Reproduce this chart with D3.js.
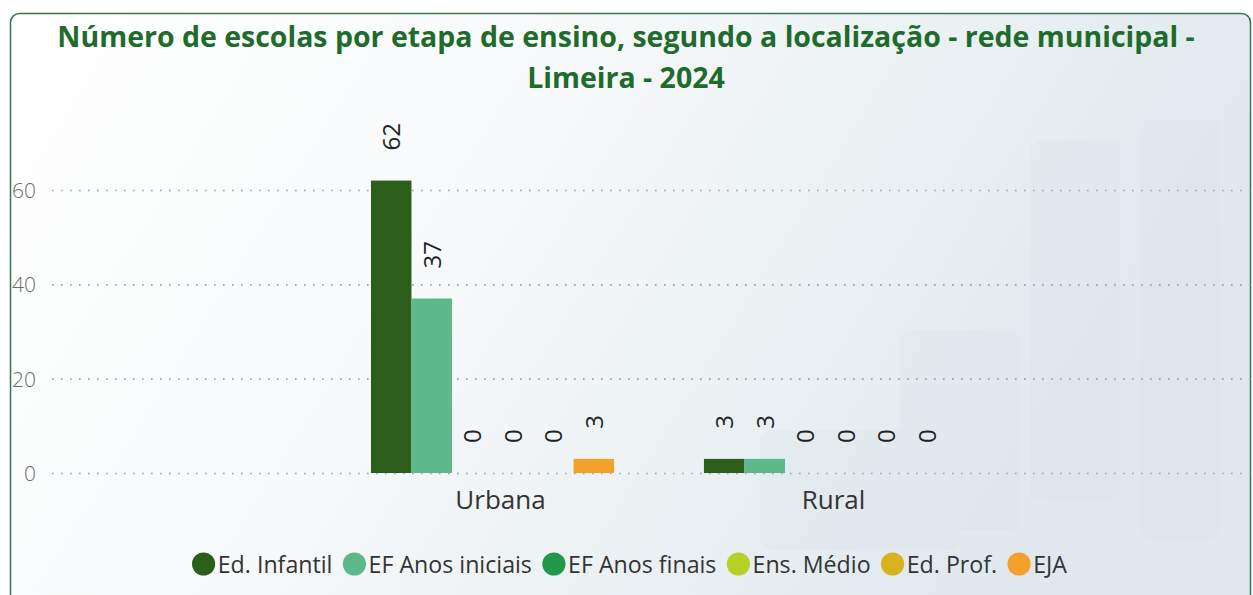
<!DOCTYPE html>
<html>
<head>
<meta charset="utf-8">
<script src="https://cdn.jsdelivr.net/npm/d3@7"></script>
<style>
	body { margin: 0; background: #fff; }
	svg { display: block; }
</style>
</head>
<body>
<div id="chart"></div>
<script>
// data
const categories = ["Urbana", "Rural"];
const series = ["Ed. Infantil", "EF Anos iniciais", "EF Anos finais", "Ens. Médio", "Ed. Prof.", "EJA"];
const urbanaValues = [62, 37, 0, 0, 0, 3];
const ruralValues = [3, 3, 0, 0, 0, 0];
const seriesColors = ["#2b5e1b", "#5db98b", "#22994a", "#b7d025", "#d8b320", "#f2a12c"];
const yTicks = [0, 20, 40, 60];
const titleLines = ["Número de escolas por etapa de ensino, segundo a localização - rede municipal -", "Limeira - 2024"];

const W = 1253, H = 595;
const values = { "Urbana": urbanaValues, "Rural": ruralValues };
const font = "'Open Sans', 'Noto Sans', sans-serif";

const svg = d3.select("#chart").append("svg")
	.attr("width", W)
	.attr("height", H);

// background card
const defs = svg.append("defs");
const grad = defs.append("linearGradient")
	.attr("id", "bg")
	.attr("x1", "0").attr("y1", "0").attr("x2", "1").attr("y2", "0.3");
grad.append("stop").attr("offset", "0").attr("stop-color", "#ffffff");
grad.append("stop").attr("offset", "0.4").attr("stop-color", "#f8fafb");
grad.append("stop").attr("offset", "0.75").attr("stop-color", "#e9eff2");
grad.append("stop").attr("offset", "1").attr("stop-color", "#e0e8ee");

svg.append("rect")
	.attr("x", 10.5).attr("y", 13.5)
	.attr("width", 1240).attr("height", 600)
	.attr("rx", 9)
	.attr("fill", "url(#bg)")
	.attr("stroke", "#2f7a4e")
	.attr("stroke-width", 1.5);

// very faint background shapes on the right
const deco = svg.append("g").attr("opacity", 0.12);
[[1030, 140, 90, 360], [1140, 120, 80, 420], [900, 330, 120, 200], [760, 430, 200, 120]].forEach(r => {
	deco.append("rect")
		.attr("x", r[0]).attr("y", r[1]).attr("width", r[2]).attr("height", r[3])
		.attr("rx", 12)
		.attr("fill", "#cdd8e0");
});

// title
const title = svg.append("g").attr("class", "title");
titleLines.forEach((line, i) => {
	title.append("text")
		.attr("x", 626)
		.attr("y", 47 + i * 41)
		.attr("text-anchor", "middle")
		.attr("font-family", font)
		.attr("font-weight", "bold")
		.attr("font-size", 24)
		.attr("fill", "#1f6b2c")
		.text(line);
});
// fit first line to its width in the reference
const firstLine = title.select("text").node();
const fitScale = 1138 / firstLine.getComputedTextLength();
title.selectAll("text").attr("font-size", 24 * fitScale);

// scales
const plot = { left: 52, right: 1253, top: 150, bottom: 473 };

const y = d3.scaleLinear()
	.domain([0, 60])
	.range([plot.bottom, 190]);

const x0 = d3.scaleBand()
	.domain(categories)
	.range([326, 992])
	.paddingInner(0.27)
	.paddingOuter(0.135);

const x1 = d3.scaleBand()
	.domain(series)
	.range([0, x0.bandwidth()]);

const color = d3.scaleOrdinal().domain(series).range(seriesColors);

// grid + y axis
const yAxis = d3.axisLeft(y)
	.tickValues(yTicks)
	.tickSize(-(plot.right - plot.left))
	.tickPadding(16);

svg.append("g")
	.attr("transform", "translate(" + plot.left + ",0)")
	.call(yAxis)
	.call(g => g.select(".domain").remove())
	.call(g => g.selectAll(".tick line")
		.attr("stroke", "#9da2a6")
		.attr("stroke-width", 1.6)
		.attr("stroke-dasharray", "1.6,7.4"))
	.call(g => g.selectAll(".tick text")
		.attr("font-family", font)
		.attr("font-weight", 300)
		.attr("font-size", 21)
		.attr("dy", "0.35em")
		.attr("fill", "#6a6a6a"));

// bars
const groups = svg.append("g")
	.selectAll("g")
	.data(categories)
	.enter().append("g")
	.attr("transform", d => "translate(" + x0(d) + ",0)");

const cells = groups.selectAll(".bar")
	.data(cat => series.map((s, i) => ({ cat: cat, key: s, value: values[cat][i] })))
	.enter();

cells.append("rect")
	.attr("class", "bar")
	.attr("x", d => x1(d.key))
	.attr("y", d => y(d.value))
	.attr("width", x1.bandwidth())
	.attr("height", d => y(0) - y(d.value))
	.attr("fill", d => color(d.key));

// value labels, rotated
cells.append("text")
	.attr("transform", d => "translate(" + (x1(d.key) + x1.bandwidth() / 2 + 9) + "," + (y(d.value) - 30) + ") rotate(-90)")
	.attr("text-anchor", "start")
	.attr("font-family", font)
	.attr("font-size", 24)
	.attr("fill", "#222")
	.text(d => d.value);

// category labels
svg.append("g")
	.selectAll("text")
	.data(categories)
	.enter().append("text")
	.attr("x", d => x0(d) + x0.bandwidth() / 2 + 8)
	.attr("y", 509)
	.attr("text-anchor", "middle")
	.attr("font-family", font)
	.attr("font-size", 26)
	.attr("fill", "#333")
	.text(d => d);

// legend
const legend = svg.append("g").attr("class", "legend");
let lx = 192;
series.forEach((s, i) => {
	legend.append("circle")
		.attr("cx", lx + 9)
		.attr("cy", 564)
		.attr("r", 9)
		.attr("fill", seriesColors[i]);
	const t = legend.append("text")
		.attr("x", lx + 20)
		.attr("y", 571)
		.attr("font-family", font)
		.attr("font-size", 18)
		.attr("fill", "#333")
		.text(s);
	lx += 20 + t.node().getComputedTextLength() + 8;
});
// fit legend between x=192 and x=1067
const legendScale = (1067 - 192) / (lx - 8 - 192);
legend.attr("transform", "translate(" + (192 - 192 * legendScale) + "," + (564 - 564 * legendScale) + ") scale(" + legendScale + ")");
</script>
</body>
</html>
